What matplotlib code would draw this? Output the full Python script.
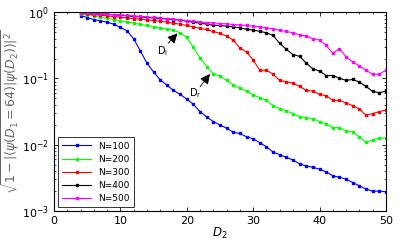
import numpy as np
import matplotlib
matplotlib.use('Agg')
import matplotlib.pyplot as plt
from matplotlib.ticker import MultipleLocator, LogLocator, NullFormatter

# D2 values (bond dimension) and log10 of the infidelity for each N
d2 = np.arange(4, 51)

log_n100 = [-0.05, -0.08, -0.11, -0.13, -0.15, -0.18, -0.23, -0.28, -0.40, -0.58,
            -0.77, -0.90, -1.02, -1.10, -1.18, -1.24, -1.31, -1.39, -1.50, -1.58,
            -1.65, -1.70, -1.75, -1.81, -1.83, -1.88, -1.91, -1.97, -2.03, -2.11,
            -2.15, -2.19, -2.23, -2.29, -2.32, -2.34, -2.37, -2.41, -2.47, -2.49,
            -2.52, -2.57, -2.62, -2.67, -2.70, -2.70, -2.71]
log_n200 = [-0.02, -0.038, -0.056, -0.074, -0.092, -0.11, -0.128, -0.146, -0.164, -0.182,
            -0.20, -0.218, -0.236, -0.254, -0.27, -0.31, -0.38, -0.53, -0.69, -0.82,
            -0.93, -0.965, -1.03, -1.10, -1.14, -1.19, -1.245, -1.29, -1.33, -1.41,
            -1.455, -1.49, -1.53, -1.575, -1.59, -1.605, -1.65, -1.685, -1.74, -1.74,
            -1.79, -1.81, -1.88, -1.96, -1.93, -1.90, -1.90]
log_n300 = [-0.015, -0.025, -0.035, -0.045, -0.055, -0.065, -0.075, -0.085, -0.095, -0.105,
            -0.115, -0.125, -0.135, -0.15, -0.165, -0.18, -0.20, -0.22, -0.245, -0.26,
            -0.29, -0.32, -0.36, -0.42, -0.54, -0.60, -0.72, -0.875, -0.875, -0.935,
            -1.03, -1.05, -1.07, -1.12, -1.18, -1.19, -1.24, -1.26, -1.33, -1.33,
            -1.37, -1.41, -1.46, -1.555, -1.53, -1.50, -1.475]
log_n400 = [-0.005, -0.01, -0.017, -0.024, -0.031, -0.038, -0.046, -0.054, -0.062, -0.07,
            -0.078, -0.086, -0.094, -0.102, -0.11, -0.12, -0.135, -0.15, -0.165, -0.18,
            -0.196, -0.20, -0.21, -0.22, -0.235, -0.256, -0.27, -0.287, -0.31, -0.35,
            -0.47, -0.56, -0.64, -0.665, -0.77, -0.855, -0.887, -0.955, -0.955, -0.995,
            -1.03, -1.013, -1.055, -1.12, -1.195, -1.215, -1.19]
log_n500 = [-0.01, -0.015, -0.02, -0.025, -0.03, -0.036, -0.042, -0.048,
            -0.055, -0.062, -0.07, -0.078, -0.086, -0.095, -0.105, -0.115, -0.125, -0.135,
            -0.146, -0.155, -0.16, -0.17, -0.175, -0.185, -0.19, -0.20, -0.21, -0.22,
            -0.235, -0.25, -0.27, -0.29, -0.31, -0.34, -0.36, -0.40, -0.42, -0.50,
            -0.62, -0.55, -0.67, -0.75, -0.81, -0.875, -0.935, -0.935, -0.875]

series = [
    ('N=100', log_n100, '#0000ff'),
    ('N=200', log_n200, '#00ff00'),
    ('N=300', log_n300, '#ff0000'),
    ('N=400', log_n400, '#000000'),
    ('N=500', log_n500, '#ff00ff'),
]

fig = plt.figure(figsize=(4.15, 2.5), dpi=100)
ax = fig.add_axes([0.130, 0.156, 0.800, 0.795])

for label, vals, col in series:
    ax.plot(d2, 10.0 ** np.array(vals), color=col, lw=0.8, marker='s',
            ms=1.5, mec=col, mfc=col, label=label)

ax.set_yscale('log')
ax.set_xlim(0, 50)
ax.set_ylim(1e-3, 1)
ax.xaxis.set_major_locator(MultipleLocator(10))
ax.xaxis.set_minor_locator(MultipleLocator(2))
ax.yaxis.set_major_locator(LogLocator(base=10, numticks=10))
ax.yaxis.set_minor_locator(LogLocator(base=10, subs=np.arange(2, 10), numticks=10))
ax.yaxis.set_minor_formatter(NullFormatter())
ax.tick_params(which='both', direction='in', top=True, right=True, labelsize=8)
ax.tick_params(which='major', length=3, width=0.6)
ax.tick_params(which='minor', length=1.5, width=0.5)
for s in ax.spines.values():
    s.set_linewidth(0.8)

ax.set_xlabel('$D_2$', fontsize=8.5, labelpad=0)
ax.set_ylabel(r'$\sqrt{1-|\langle\psi(D_1=64)|\psi(D_2)\rangle|^2}$',
              fontsize=9, color='#666666', labelpad=0)

# annotations
arrow = dict(arrowstyle='-|>,head_length=0.6,head_width=0.3', color='black',
             lw=0.6, shrinkA=0, shrinkB=0)
ax.annotate('', xy=(18.6, 0.48), xytext=(17.2, 0.34), arrowprops=arrow)
ax.text(16.4, 0.255, r'D$_\mathregular{l}$', fontsize=7, ha='center', va='center')
ax.annotate('', xy=(23.5, 0.117), xytext=(22.0, 0.075), arrowprops=arrow)
ax.text(21.2, 0.060, r'D$_\mathregular{r}$', fontsize=7, ha='center', va='center')

leg = ax.legend(loc='lower left', fontsize=6.5, frameon=True, fancybox=False,
                edgecolor='black', handlelength=3.2, borderpad=0.5,
                labelspacing=0.45, borderaxespad=0.4)
leg.get_frame().set_linewidth(0.7)

fig.savefig('out.png', dpi=100)
